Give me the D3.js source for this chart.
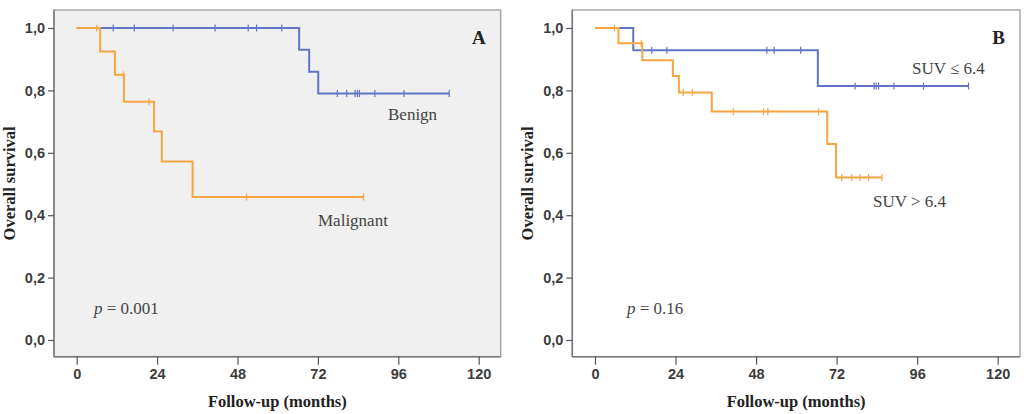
<!DOCTYPE html>
<html>
<head>
  <meta charset="utf-8">
  <title>km curves</title>
  <style>
    body { margin: 0; background: #fff; }
    svg { font-family: "Liberation Serif", "Times New Roman", serif; }
    .axis text { font-size: 14.5px; font-weight: bold; fill: #3c3c3c; }
    .axis line { stroke: #555; stroke-width: 1.2; }
    .axis path { display: none; }
    .title { font-size: 16.5px; font-weight: bold; fill: #222; }
    .note { font-size: 17px; fill: #444; }
    .letter { font-size: 19px; font-weight: bold; fill: #222; }
  </style>
</head>
<body>
<script src="https://d3js.org/d3.v7.min.js"></script>
<script>
  var width = 1032,
      height = 414;

  // months ticks / survival ticks
  var xTicks = [0, 24, 48, 72, 96, 120];
  var yTicks = [0, 0.2, 0.4, 0.6, 0.8, 1.0];

  // panel A : Benign
  var benignTimes = [66.4, 69.4, 72.1];
  var benignSurv = [0.93, 0.86, 0.79];
  var benignCensor = [10.9, 17.2, 28.8, 41.3, 51.2, 53.7, 61.2, 77.8, 80.6, 83.1, 83.8, 84.4, 89.0, 97.7, 111.2];
  var benignEnd = 111.2;

  // panel A : Malignant
  var malignTimes = [7.0, 11.4, 14.1, 23.1, 25.4, 34.6];
  var malignSurv = [0.925, 0.85, 0.764, 0.668, 0.572, 0.458];
  var malignCensor = [6.0, 13.9, 21.6, 50.7, 85.6];
  var malignEnd = 85.6;

  // panel B : SUV <= 6.4
  var lowTimes = [11.4, 66.4];
  var lowSurv = [0.929, 0.814];
  var lowCensor = [16.9, 21.4, 51.2, 53.4, 61.3, 77.5, 83.2, 83.8, 84.5, 89.1, 97.9, 111.3];
  var lowEnd = 111.3;

  // panel B : SUV > 6.4
  var highTimes = [7.0, 14.1, 23.2, 25.0, 34.8, 69.2, 71.8];
  var highSurv = [0.951, 0.897, 0.846, 0.793, 0.732, 0.628, 0.521];
  var highCensor = [5.8, 13.8, 26.3, 29.0, 41.2, 50.2, 51.5, 66.6, 73.5, 76.5, 79.0, 81.5, 85.5];
  var highEnd = 85.5;

  var blue = '#6374c6',
      orange = '#f5a640';

  var svg = d3.select('body')
    .append('svg')
    .attr('width', width)
    .attr('height', height);

  function survAt(times, surv, t) {
    var s = 1;
    for (var i = 0; i < times.length; i++) {
      if (times[i] <= t) s = surv[i];
    }
    return s;
  }

  function drawPanel(opt) {
    var g = svg.append('g');
    var frame = opt.frame; // left, top, right, bottom

    var x = d3.scaleLinear().domain([0, 120]).range(opt.xRange);
    var y = d3.scaleLinear().domain([0, 1]).range([340, 28]);

    g.append('rect')
      .attr('x', frame.left)
      .attr('y', frame.top)
      .attr('width', frame.right - frame.left)
      .attr('height', frame.bottom - frame.top)
      .attr('fill', opt.bg)
      .attr('stroke', '#a8a8a8')
      .attr('stroke-width', 1.5);

    // darker left / bottom axis lines
    g.append('line')
      .attr('x1', frame.left).attr('x2', frame.left)
      .attr('y1', frame.top).attr('y2', frame.bottom)
      .attr('stroke', '#7a7a7a').attr('stroke-width', 1.5);
    g.append('line')
      .attr('x1', frame.left).attr('x2', frame.right)
      .attr('y1', frame.bottom).attr('y2', frame.bottom)
      .attr('stroke', '#7a7a7a').attr('stroke-width', 1.5);

    var yAxis = d3.axisLeft(y)
      .tickValues(yTicks)
      .tickSize(6)
      .tickPadding(3)
      .tickFormat(function(d) { return d3.format('.1f')(d).replace('.', ','); });
    g.append('g')
      .attr('class', 'axis')
      .attr('transform', 'translate(' + frame.left + ',0)')
      .call(yAxis);

    var xAxis = d3.axisBottom(x)
      .tickValues(xTicks)
      .tickSize(8)
      .tickPadding(4)
      .tickFormat(d3.format('d'));
    g.append('g')
      .attr('class', 'axis')
      .attr('transform', 'translate(0,' + frame.bottom + ')')
      .call(xAxis);

    var line = d3.line()
      .x(function(d) { return x(d[0]); })
      .y(function(d) { return y(d[1]); })
      .curve(d3.curveStepAfter);

    opt.curves.forEach(function(c) {
      var pts = [[0, 1]];
      c.times.forEach(function(t, i) { pts.push([t, c.surv[i]]); });
      pts.push([c.end, c.surv[c.surv.length - 1]]);

      g.append('path')
        .attr('d', line(pts))
        .attr('fill', 'none')
        .attr('stroke', c.color)
        .attr('stroke-width', 2);

      g.selectAll(null)
        .data(c.censor)
        .enter()
        .append('line')
        .attr('x1', function(d) { return x(d); })
        .attr('x2', function(d) { return x(d); })
        .attr('y1', function(d) { return y(survAt(c.times, c.surv, d)) - 3.5; })
        .attr('y2', function(d) { return y(survAt(c.times, c.surv, d)) + 3.5; })
        .attr('stroke', c.color)
        .attr('stroke-width', 1.2);
    });

    var cx = (frame.left + frame.right) / 2;
    g.append('text')
      .attr('class', 'title')
      .attr('x', cx)
      .attr('y', 407)
      .attr('text-anchor', 'middle')
      .text('Follow-up (months)');

    g.append('text')
      .attr('class', 'title')
      .attr('transform', 'translate(' + (frame.left - 39) + ',' + ((frame.top + frame.bottom) / 2) + ') rotate(-90)')
      .attr('text-anchor', 'middle')
      .text('Overall survival');

    g.append('text')
      .attr('class', 'letter')
      .attr('x', frame.right - 15)
      .attr('y', 44)
      .attr('text-anchor', 'end')
      .text(opt.letter);

    opt.notes.forEach(function(n) {
      g.append('text')
        .attr('class', 'note')
        .attr('x', n.x)
        .attr('y', n.y)
        .text(n.text);
    });

    var p = g.append('text')
      .attr('class', 'note')
      .attr('x', opt.pPos[0])
      .attr('y', opt.pPos[1]);
    p.append('tspan').attr('font-style', 'italic').text('p');
    p.append('tspan').text(' = ' + opt.pValue);
  }

  drawPanel({
    frame: {left: 54, top: 10, right: 500.7, bottom: 356.7},
    xRange: [76.7, 478.7],
    bg: '#f0f0f0',
    letter: 'A',
    curves: [
      {times: benignTimes, surv: benignSurv, censor: benignCensor, end: benignEnd, color: blue},
      {times: malignTimes, surv: malignSurv, censor: malignCensor, end: malignEnd, color: orange}
    ],
    notes: [
      {x: 388, y: 120, text: 'Benign'},
      {x: 318, y: 226, text: 'Malignant'}
    ],
    pPos: [94, 314],
    pValue: '0.001'
  });

  drawPanel({
    frame: {left: 572.3, top: 10, right: 1020, bottom: 356.7},
    xRange: [595, 997.7],
    bg: '#ffffff',
    letter: 'B',
    curves: [
      {times: lowTimes, surv: lowSurv, censor: lowCensor, end: lowEnd, color: blue},
      {times: highTimes, surv: highSurv, censor: highCensor, end: highEnd, color: orange}
    ],
    notes: [
      {x: 912, y: 74, text: 'SUV \u2264 6.4'},
      {x: 873, y: 207, text: 'SUV > 6.4'}
    ],
    pPos: [627, 314],
    pValue: '0.16'
  });
</script>
</body>
</html>
